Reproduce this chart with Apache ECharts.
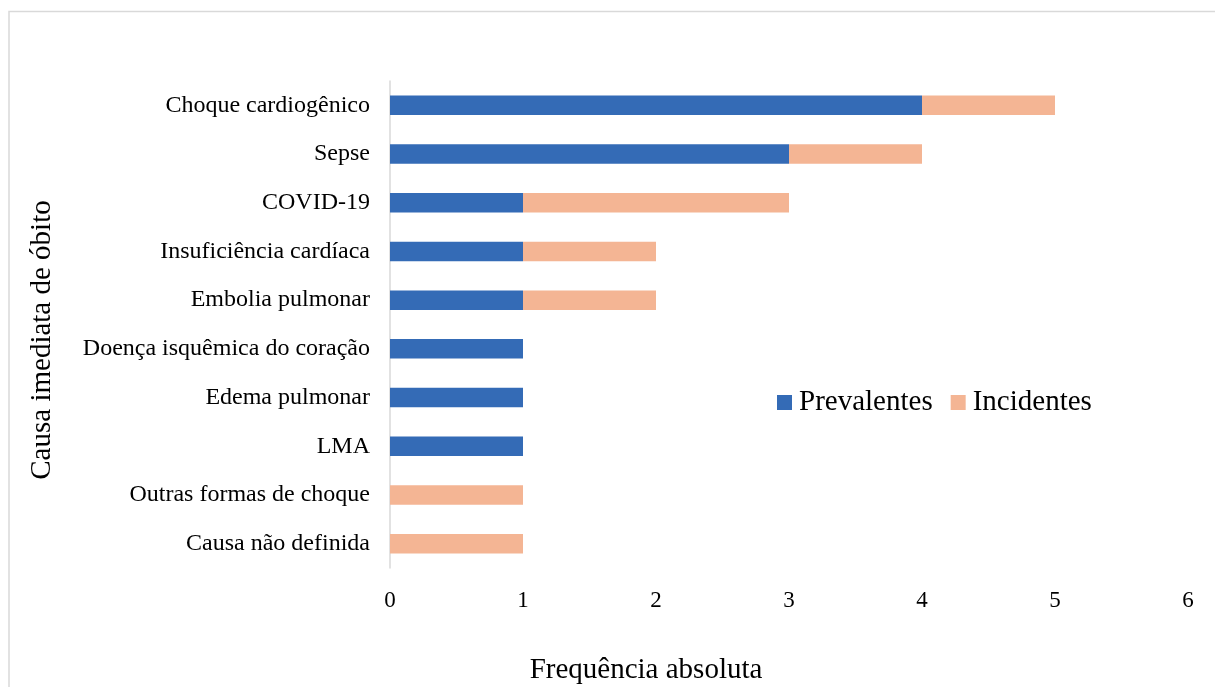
<!DOCTYPE html>
<html>
<head>
<meta charset="utf-8">
<script src="https://cdn.jsdelivr.net/npm/echarts@6/dist/echarts.min.js"></script>
<style>
    html, body { margin: 0; padding: 0; background: #fff; }
    #chart { width: 1215px; height: 687px; }
</style>
</head>
<body>
<div id="chart"></div>
<script type="text/javascript">
    // categories listed bottom to top (category axis on y grows upward)
    var causas = ['Causa não definida', 'Outras formas de choque', 'LMA', 'Edema pulmonar',
        'Doença isquêmica do coração', 'Embolia pulmonar', 'Insuficiência cardíaca',
        'COVID-19', 'Sepse', 'Choque cardiogênico'];
    var prevalentes = [0, 0, 1, 1, 1, 1, 1, 1, 3, 4];
    var incidentes = [1, 1, 0, 0, 0, 1, 1, 2, 1, 1];
    var xTicks = [0, 6, 1];  // min, max, interval

    var fonte = '"Liberation Serif", "Times New Roman", serif';
    var chart = echarts.init(document.getElementById('chart'));
    var option = {
        animation: false,
        textStyle: {fontFamily: fonte, color: '#000'},
        graphic: [{
            type: 'rect',
            shape: {x: 9, y: 11.5, width: 1300, height: 800},
            style: {fill: 'none', stroke: '#d9d9d9', lineWidth: 1.5},
            silent: true
        }, {
            // eixo y: titulo girado
            type: 'text',
            x: 42,
            y: 340,
            rotation: Math.PI / 2,
            style: {
                text: 'Causa imediata de óbito',
                font: '29px ' + fonte,
                fill: '#000',
                align: 'center',
                verticalAlign: 'middle'
            },
            silent: true
        }, {
            type: 'text',
            x: 646,
            y: 670,
            style: {
                text: 'Frequência absoluta',
                font: '29px ' + fonte,
                fill: '#000',
                align: 'center',
                verticalAlign: 'middle'
            },
            silent: true
        }],
        legend: {
            left: 772,
            top: 383,
            itemWidth: 15,
            itemHeight: 15,
            itemGap: 18,
            icon: 'rect',
            textStyle: {fontFamily: fonte, fontSize: 29, color: '#000', padding: [0, 0, 0, 2]},
            data: ['Prevalentes', 'Incidentes']
        },
        grid: {
            left: 390,
            right: 27,
            top: 81,
            bottom: 119,
            containLabel: false
        },
        xAxis: {
            type: 'value',
            min: xTicks[0],
            max: xTicks[1],
            interval: xTicks[2],
            axisLine: {show: false},
            axisTick: {show: false},
            splitLine: {show: false},
            axisLabel: {fontFamily: fonte, fontSize: 23, color: '#000', margin: 21}
        },
        yAxis: {
            type: 'category',
            data: causas,
            axisLine: {show: true, lineStyle: {color: '#d9d9d9', width: 1.5}},
            axisTick: {show: false},
            axisLabel: {fontFamily: fonte, fontSize: 24, color: '#000', margin: 20}
        },
        series: [{
            name: 'Prevalentes',
            type: 'bar',
            stack: 'total',
            barWidth: '40%',
            itemStyle: {color: '#346bb6'},
            data: prevalentes
        }, {
            name: 'Incidentes',
            type: 'bar',
            stack: 'total',
            barWidth: '40%',
            itemStyle: {color: '#f4b594'},
            data: incidentes
        }]
    };
    chart.setOption(option);
</script>
</body>
</html>
